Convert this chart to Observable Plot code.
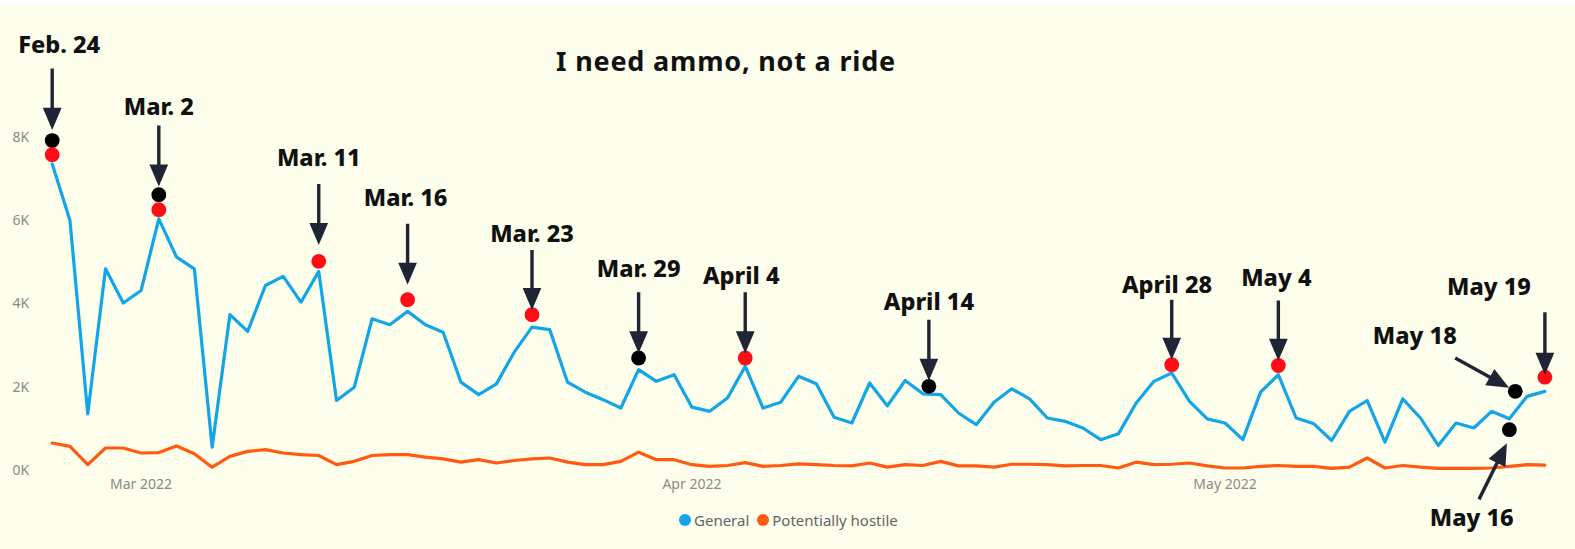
<!DOCTYPE html>
<html>
<head>
<meta charset="utf-8">
<script src="https://cdn.jsdelivr.net/npm/d3@7"></script>
<script src="https://cdn.jsdelivr.net/npm/@observablehq/plot@0.6"></script>
<style>
  html, body { margin: 0; padding: 0; background: #fefeec; }
  #wrap { position: relative; width: 1575px; height: 549px; overflow: hidden; background: #fefeec; }
  #strip { position: absolute; left: 0; top: 0; width: 1575px; height: 6px; background: #ffffff; z-index: 2; }
  #title { position: absolute; left: 0; width: 1452px; top: 48.2px; text-align: center; letter-spacing: 0.8px;
           font: 700 27px/26px "Noto Sans", sans-serif; color: #111111; z-index: 2; }
  #chart { position: absolute; left: 0; top: 0; }
  #legend { position: absolute; left: 679px; top: 512.5px; height: 15px; display: flex; align-items: center;
            font: 400 15px/15px "Noto Sans", sans-serif; color: #646464; z-index: 2; }
  #legend .sw { width: 12px; height: 12px; border-radius: 50%; display: inline-block; margin-right: 3px; }
  #legend .it { display: flex; align-items: center; margin-right: 8px; }
</style>
</head>
<body>
<div id="wrap">
  <div id="strip"></div>
  <div id="title">I need ammo, not a ride</div>
  <div id="chart"></div>
  <div id="legend"></div>
</div>
<script>
// ---------- data ----------
const startDate = "2022-02-24";
const endDate = "2022-05-19";
const seriesNames = ["General", "Potentially hostile"];
const general = [
  7360, 6000, 1360, 4840, 4020, 4320, 6040, 5120, 4840, 560,
  3740, 3340, 4440, 4660, 4040, 4780, 1680, 2000, 3640, 3500,
  3820, 3500, 3320, 2120, 1820, 2080, 2840, 3440, 3380, 2120,
  1880, 1700, 1500, 2420, 2140, 2300, 1520, 1420, 1740, 2500,
  1500, 1640, 2260, 2080, 1280, 1140, 2100, 1550, 2160, 1840,
  1820, 1380, 1100, 1640, 1960, 1720, 1260, 1180, 1020, 740,
  880, 1620, 2140, 2340, 1660, 1240, 1140, 740, 1880, 2300,
  1260, 1120, 720, 1420, 1680, 680, 1720, 1260, 600, 1140,
  1020, 1420, 1240, 1780, 1900
];
const hostile = [
  660, 580, 140, 540, 540, 420, 430, 590, 400, 80,
  340, 460, 500, 420, 380, 360, 140, 220, 360, 380,
  380, 320, 280, 200, 260, 180, 240, 280, 300, 200,
  140, 140, 220, 440, 260, 260, 140, 100, 120, 190,
  100, 120, 160, 140, 120, 110, 180, 80, 140, 120,
  220, 110, 110, 80, 150, 150, 140, 110, 120, 120,
  60, 200, 140, 150, 180, 110, 60, 60, 100, 120,
  100, 100, 50, 80, 300, 60, 120, 80, 50, 50,
  50, 60, 100, 140, 130
];
const yTicks = [0, 2000, 4000, 6000, 8000];
const xTickDates = ["2022-03-01", "2022-04-01", "2022-05-01"];

// highlighted markers
const dotDates  = ["2022-02-24", "2022-02-24", "2022-03-02", "2022-03-02", "2022-03-11", "2022-03-16", "2022-03-23",
                   "2022-03-29", "2022-04-04", "2022-04-14T08:00Z", "2022-04-28", "2022-05-04", "2022-05-17",
                   "2022-05-17T08:00Z", "2022-05-19"];
const dotValues = [7920, 7580, 6620, 6260, 5020, 4100, 3740, 2700, 2700, 2020, 2540, 2520, 980, 1900, 2240];
const dotKinds  = ["black", "red", "black", "red", "red", "red", "red", "black", "red", "black", "red", "red",
                   "black", "black", "red"];

// annotations: label and index of the marker it points at
const noteLabels  = ["Feb. 24", "Mar. 2", "Mar. 11", "Mar. 16", "Mar. 23", "Mar. 29", "April 4", "April 14",
                     "April 28", "May 4", "May 16", "May 18", "May 19"];
const noteTargets = [0, 2, 4, 5, 6, 7, 8, 9, 10, 11, 12, 13, 14];

// ---------- annotation layout (pixel offsets from the target marker) ----------
const noteLayout = [
  {tip: [0, -15],   len: 57,   rot: 180,   text: [7, -95.5]},
  {tip: [0, -12.6], len: 56.7, rot: 180,   text: [0, -87]},
  {tip: [0, -20.7], len: 56.7, rot: 180,   text: [0, -102.7]},
  {tip: [0, -19.3], len: 56.7, rot: 180,   text: [-2, -101]},
  {tip: [0, -9],    len: 55.7, rot: 180,   text: [0, -80]},
  {tip: [0, -9],    len: 56.7, rot: 180,   text: [0, -88.3]},
  {tip: [0, -9],    len: 56.7, rot: 180,   text: [-4, -81.7]},
  {tip: [0, -10],   len: 56.7, rot: 180,   text: [0, -83.5]},
  {tip: [0, -9.3],  len: 55.7, rot: 180,   text: [-4.7, -79]},
  {tip: [0, -9],    len: 56,   rot: 180,   text: [-2, -87.5]},
  {tip: [-4.4, 17.4], len: 58.4, rot: 26.4, text: [-37.7, 88.7]},
  {tip: [-10, -5.7],  len: 57.2, rot: 118.9, text: [-100.5, -54.4]},
  {tip: [0, -6.7],  len: 58.3, rot: 180,   text: [-56, -90]}
];

// ---------- build ----------
const BLUE = "#12a5e8", ORANGE = "#ff5a10", RED = "#ff0d17", NAVY = "#1f2534";
const W = 1575, H = 549, mL = 51.7, mR = 30.6, mT = 136.7, mB = 79;

const dates = d3.utcDays(new Date(startDate), d3.utcDay.offset(new Date(endDate), 1));
const rows = dates.map((d, i) => ({date: d, general: general[i], hostile: hostile[i]}));
const xDomain = [dates[0], dates[dates.length - 1]];

const dots = dotDates.map((d, i) => ({date: new Date(d), value: dotValues[i], kind: dotKinds[i]}));

const sx = Plot.scale({x: {type: "utc", domain: xDomain, range: [mL, W - mR]}});
const sy = Plot.scale({y: {type: "linear", domain: [0, 8000], range: [H - mB, mT]}});
const px = (d, dx) => sx.invert(sx.apply(d) + dx);
const py = (v, dy) => sy.invert(sy.apply(v) + dy);

const arrows = noteLabels.map((lab, i) => {
  const t = dots[noteTargets[i]], L = noteLayout[i];
  return {x: px(t.date, L.tip[0]), y: py(t.value, L.tip[1]), len: L.len, rot: L.rot};
});
const labels = noteLabels.map((lab, i) => {
  const t = dots[noteTargets[i]], L = noteLayout[i];
  return {x: px(t.date, L.text[0]), y: py(t.value, L.text[1]), label: lab};
});

const arrowShape = {
  draw(ctx, l) {
    const h = 16, w = 6.8;
    ctx.moveTo(0, 0);
    ctx.lineTo(0, -l + h * 0.8);
    ctx.moveTo(-w, -l + h);
    ctx.lineTo(0, -l);
    ctx.lineTo(w, -l + h);
    ctx.closePath();
  }
};

const chart = Plot.plot({
  width: W, height: H,
  marginLeft: mL, marginRight: mR, marginTop: mT, marginBottom: mB,
  x: {type: "utc", domain: xDomain},
  y: {domain: [0, 8000]},
  length: {type: "identity"},
  color: {type: "identity"},
  style: {background: "transparent", fontFamily: "Noto Sans", fontSize: "14px", color: "#8a8a86", overflow: "visible"},
  marks: [
    Plot.axisY({ticks: yTicks, tickSize: 0, tickPadding: 23, tickFormat: d => d / 1000 + "K"}),
    Plot.axisX({ticks: xTickDates.map(d => new Date(d)), tickSize: 0, tickPadding: 9, tickFormat: d3.utcFormat("%b %Y")}),
    Plot.line(rows, {x: "date", y: "hostile", stroke: ORANGE, strokeWidth: 3.2}),
    Plot.line(rows, {x: "date", y: "general", stroke: BLUE, strokeWidth: 3.2}),
    Plot.dot(dots, {x: "date", y: "value", r: 7.4, fill: d => d.kind === "red" ? RED : "#000000"}),
    Plot.vector(arrows, {x: "x", y: "y", length: "len", rotate: "rot", anchor: "end", shape: arrowShape,
                         stroke: NAVY, fill: NAVY, strokeWidth: 3.4, strokeLinejoin: "miter", strokeLinecap: "butt"}),
    Plot.text(labels, {x: "x", y: "y", text: "label", fontSize: 23.5, fontWeight: 800, fill: "#111111",
                       fontFamily: "Noto Sans"})
  ]
});
document.getElementById("chart").appendChild(chart);

const legend = document.getElementById("legend");
[[seriesNames[0], BLUE], [seriesNames[1], ORANGE]].forEach(([name, c]) => {
  const it = document.createElement("span");
  it.className = "it";
  const sw = document.createElement("span");
  sw.className = "sw";
  sw.style.background = c;
  it.appendChild(sw);
  it.appendChild(document.createTextNode(name));
  legend.appendChild(it);
});
</script>
</body>
</html>
